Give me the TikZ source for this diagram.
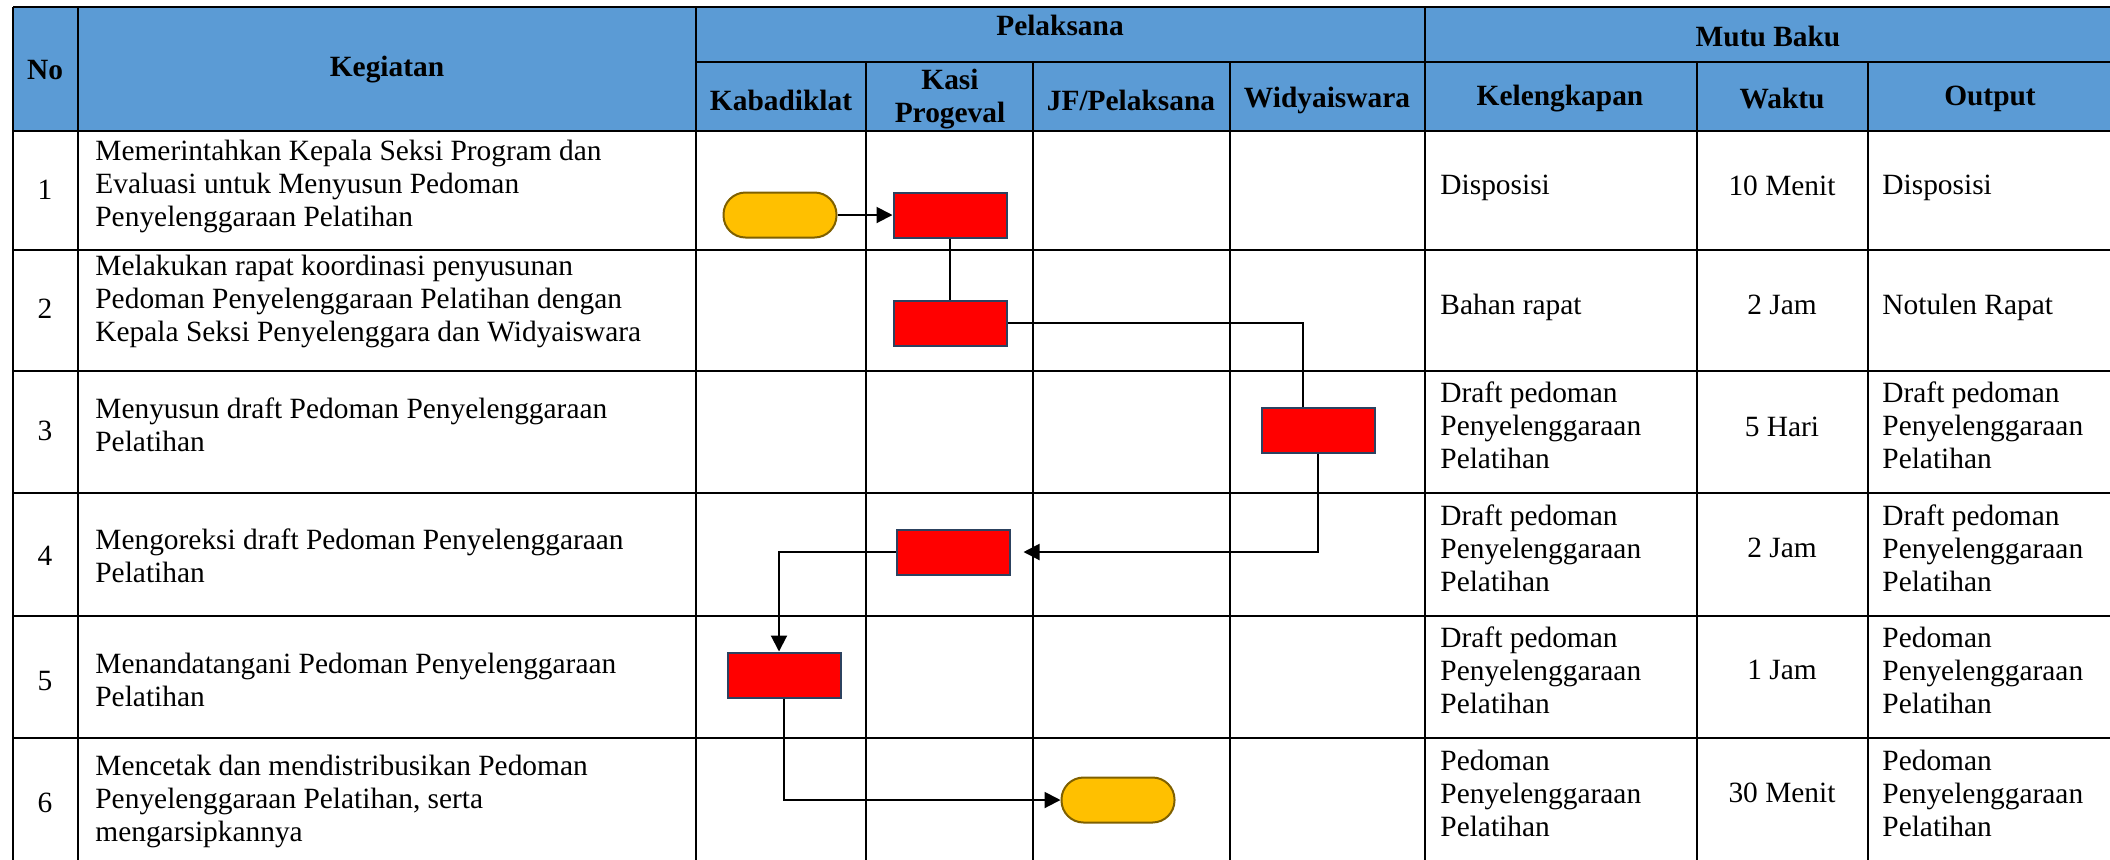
\documentclass[tikz,border=0pt]{standalone}
\usepackage{fontspec}
\setmainfont{Liberation Serif}
\usetikzlibrary{arrows.meta,positioning}

\definecolor{headblue}{RGB}{91,155,213}
\definecolor{boxred}{RGB}{255,0,0}
\definecolor{boxline}{RGB}{44,66,96}
\definecolor{termyellow}{RGB}{255,192,0}
\definecolor{termline}{RGB}{127,96,0}

\newcommand{\bodyfont}{\fontsize{14.7}{16.5}\selectfont}

\tikzset{
  gridline/.style={line width=1.3pt,black},
  proc/.style={rectangle,draw=boxline,fill=boxred,line width=1pt,
    minimum width=56.5pt,minimum height=22.5pt,inner sep=0pt},
  term/.style={rectangle,rounded corners=11pt,draw=termline,fill=termyellow,
    line width=1pt,minimum width=56.5pt,minimum height=22.5pt,inner sep=0pt},
  flow/.style={line width=1pt,black},
  flowarrow/.style={flow,-{Triangle[length=8pt,width=8pt]}},
  cell/.style={anchor=west,align=left,inner sep=0pt,font=\bodyfont},
  num/.style={inner sep=0pt,font=\bodyfont},
  head/.style={inner sep=0pt,align=center,font=\bodyfont\bfseries},
}

\begin{document}
\begin{tikzpicture}[x=0.5pt,y=-0.5pt]
  \useasboundingbox (0,0) rectangle (2110,859);
  \clip (0,0) rectangle (2110,859);

  \fill[headblue] (13,7) rectangle (2114,131);
  \draw[gridline] (13,7) -- (2114,7);
  \draw[gridline] (696,62) -- (2114,62);
  \foreach \y in {131,250,371,493,616,738}
    \draw[gridline] (13,\y) -- (2114,\y);
  \foreach \x in {13,78,696,1425}
    \draw[gridline] (\x,7) -- (\x,864);
  \foreach \x in {866,1033,1230,1697,1868}
    \draw[gridline] (\x,62) -- (\x,864);

  \node[head] (hno) at (45,70) {No};
  \node[head] (hkeg) at (387,70) {Kegiatan};
  \node[head] (hpel) at (1060,25) {Pelaksana};
  \node[head] (hmutu) at (1768,36) {Mutu Baku};
  \node[head] (hkab) at (781,100) {Kabadiklat};
  \node[head] (hkasi) at (950,99) {Kasi\\Progeval};
  \node[head] (hjf) at (1131,100) {JF/Pelaksana};
  \node[head] (hwid) at (1327,100) {Widyaiswara};
  \node[head] (hkel) at (1560,99) {Kelengkapan};
  \node[head] (hwkt) at (1782,99) {Waktu};
  \node[head] (hout) at (1990,99) {Output};

  \foreach \i/\y in {1/190,2/309,3/431,4/556,5/681,6/803}
    \node[num] (no\i) at (45,\y) {\i};

  \node[cell] (keg1) at (95,186) {Memerintahkan Kepala Seksi Program dan\\Evaluasi untuk Menyusun Pedoman\\Penyelenggaraan Pelatihan};
  \node[cell] (keg2) at (95,301) {Melakukan rapat koordinasi penyusunan\\Pedoman Penyelenggaraan Pelatihan dengan\\Kepala Seksi Penyelenggara dan Widyaiswara};
  \node[cell] (keg3) at (95,425) {Menyusun draft Pedoman Penyelenggaraan\\Pelatihan};
  \node[cell] (keg4) at (95,556) {Mengoreksi draft Pedoman Penyelenggaraan\\Pelatihan};
  \node[cell] (keg5) at (95,680) {Menandatangani Pedoman Penyelenggaraan\\Pelatihan};
  \node[cell] (keg6) at (95,801) {Mencetak dan mendistribusikan Pedoman\\Penyelenggaraan Pelatihan, serta\\mengarsipkannya};

  \node[cell] (kel1) at (1440,188) {Disposisi};
  \node[cell] (kel2) at (1440,307) {Bahan rapat};
  \node[cell] (kel3) at (1440,425) {Draft pedoman\\Penyelenggaraan\\Pelatihan};
  \node[cell] (kel4) at (1440,548) {Draft pedoman\\Penyelenggaraan\\Pelatihan};
  \node[cell] (kel5) at (1440,670) {Draft pedoman\\Penyelenggaraan\\Pelatihan};
  \node[cell] (kel6) at (1440,793) {Pedoman\\Penyelenggaraan\\Pelatihan};

  \foreach \i/\y/\t in {1/186/10 Menit,2/305/2 Jam,3/427/5 Hari,4/548/2 Jam,5/670/1 Jam,6/793/30 Menit}
    \node[num] (wkt\i) at (1782,\y) {\t};

  \node[cell] (out1) at (1882,188) {Disposisi};
  \node[cell] (out2) at (1882,307) {Notulen Rapat};
  \node[cell] (out3) at (1882,425) {Draft pedoman\\Penyelenggaraan\\Pelatihan};
  \node[cell] (out4) at (1882,548) {Draft pedoman\\Penyelenggaraan\\Pelatihan};
  \node[cell] (out5) at (1882,670) {Pedoman\\Penyelenggaraan\\Pelatihan};
  \node[cell] (out6) at (1882,793) {Pedoman\\Penyelenggaraan\\Pelatihan};

  \node[term] (mulai) at (780,215) {};
  \node[proc] (p1) at (950,215) {};
  \node[proc] (p2) at (950,323) {};
  \node[proc] (p3) at (1318,430) {};
  \node[proc] (p4) at (953,552) {};
  \node[proc] (p5) at (784,675) {};
  \node[term] (selesai) at (1118,800) {};

  \draw[flowarrow] (mulai) -- (p1);
  \draw[flow] (p1) -- (p2);
  \draw[flow] (p2.east) -| ([xshift=-7.5pt]p3.north);
  \draw[flowarrow,shorten >=6.5pt] (p3.south) |- (p4.east);
  \draw[flowarrow] (p4.west) -| ([xshift=-2.5pt]p5.north);
  \draw[flowarrow] (p5.south) |- (selesai.west);
\end{tikzpicture}
\end{document}
